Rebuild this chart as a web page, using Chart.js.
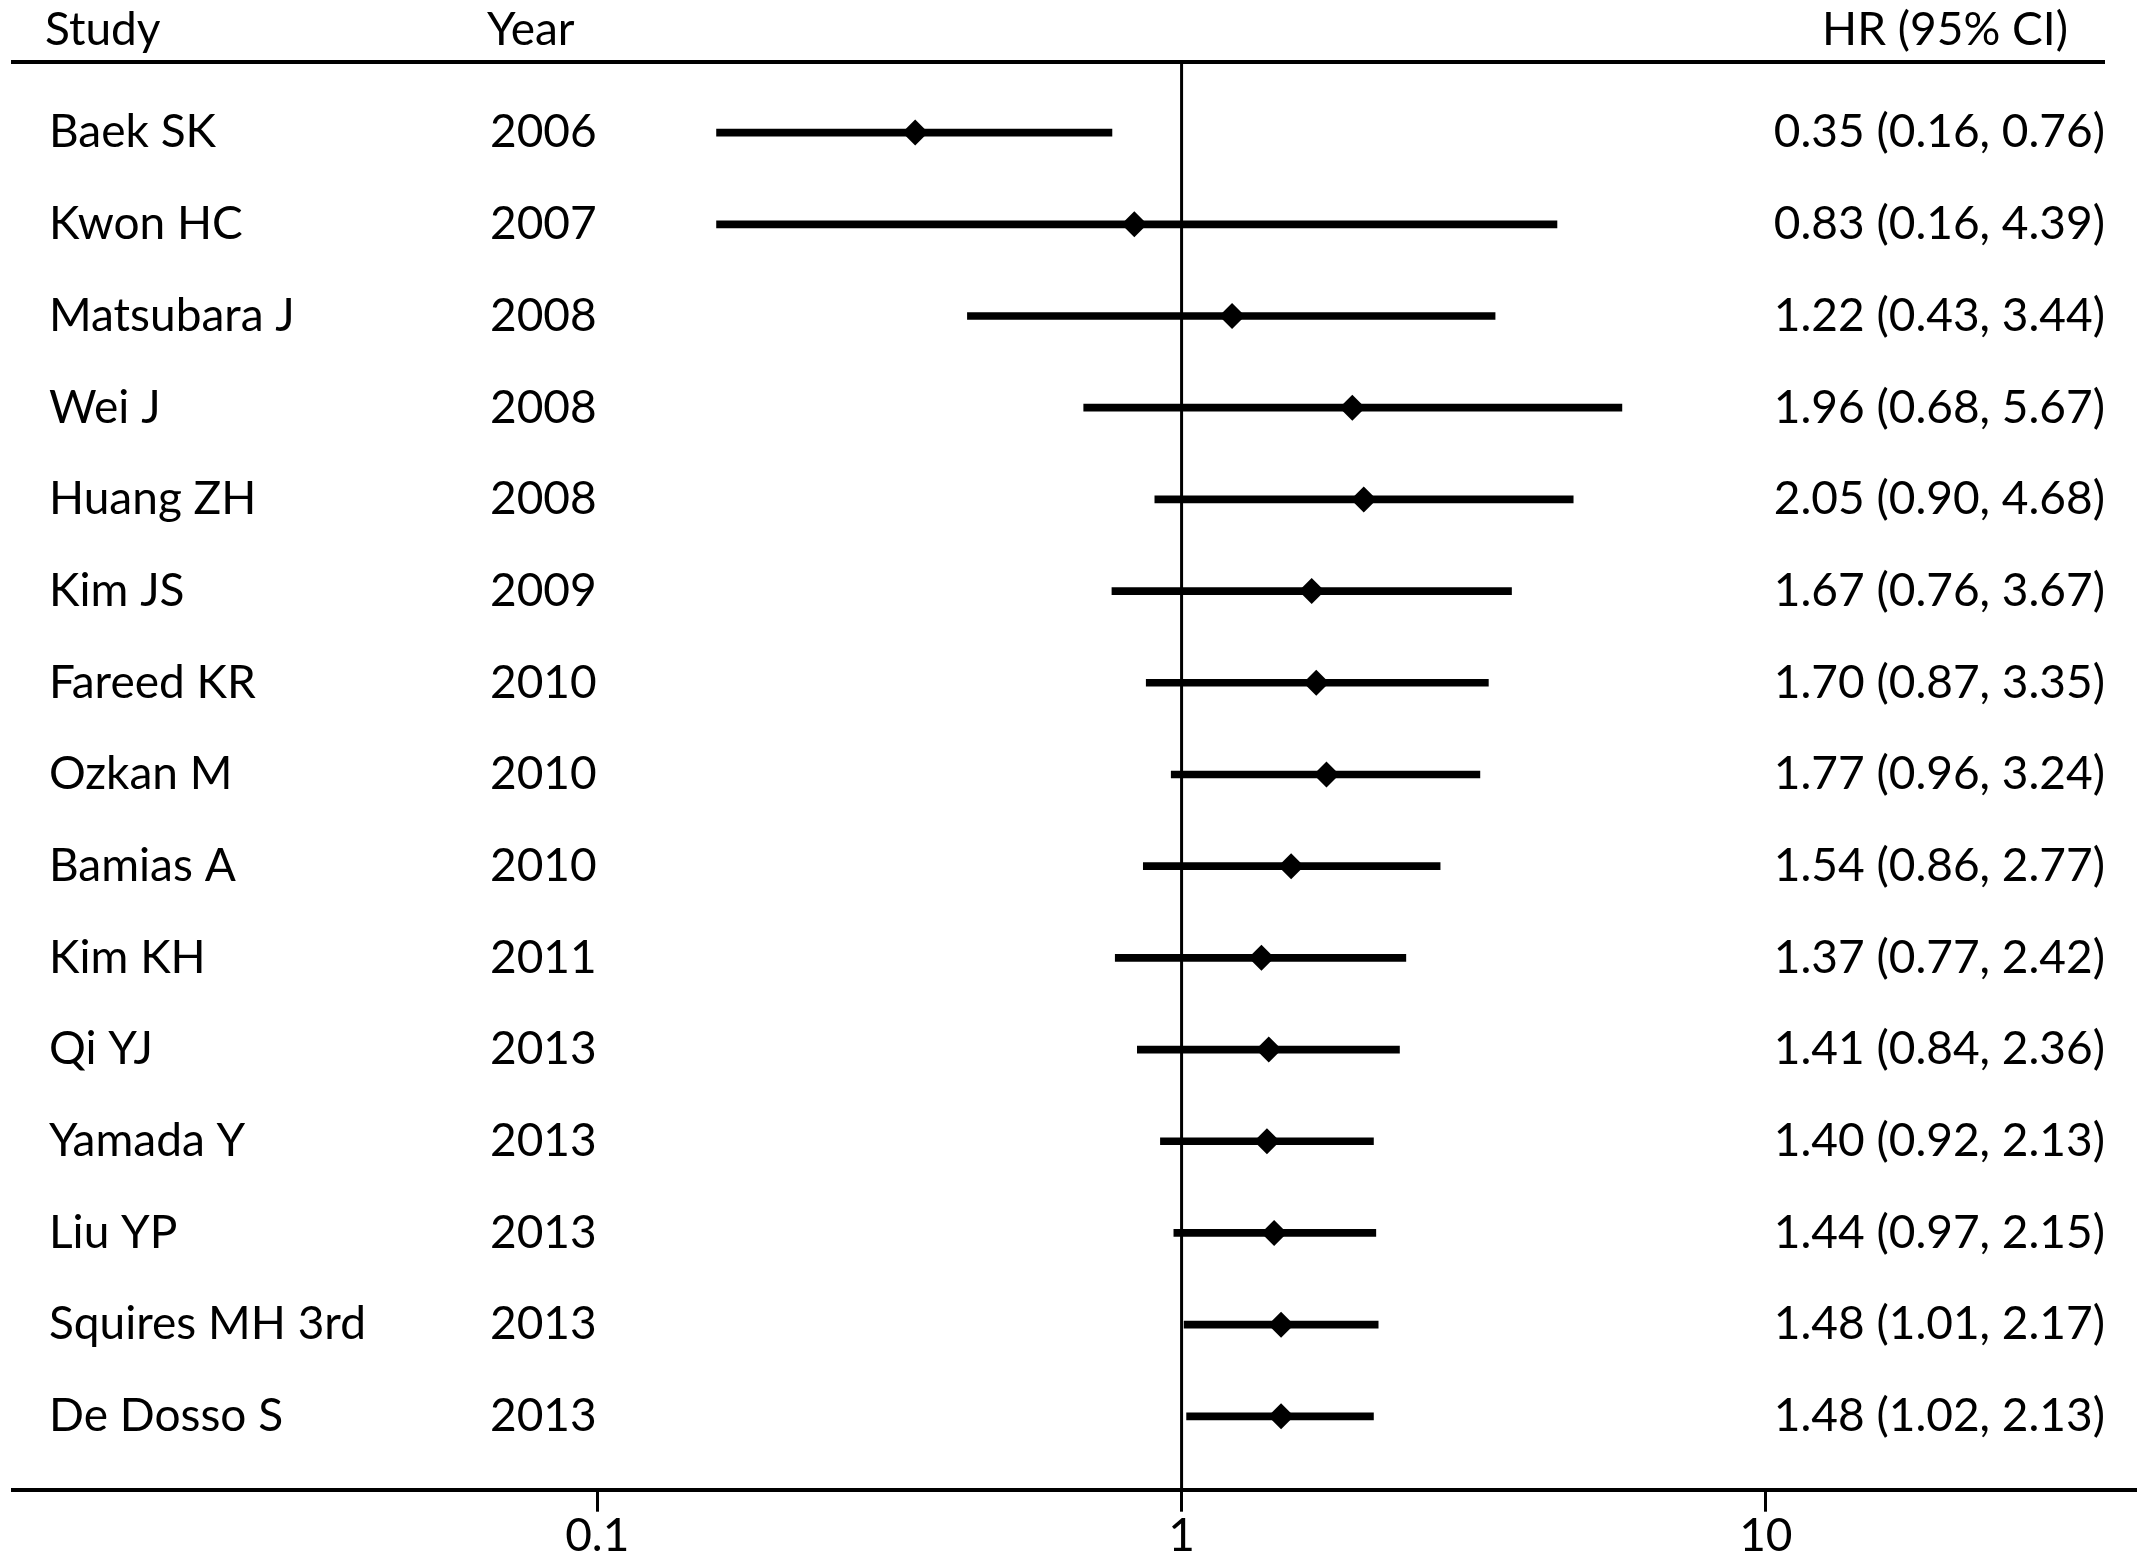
<!DOCTYPE html>
<html>
<head>
<meta charset="utf-8">
<script src="https://cdn.jsdelivr.net/npm/chart.js@4.4.1/dist/chart.umd.min.js"></script>
<style>
  body { margin: 0; background: #fff; }
  #wrap { width: 2150px; height: 1560px; }
</style>
</head>
<body>
<div id="wrap"><canvas id="forest" width="2150" height="1560"></canvas></div>
<script>
// forest plot data
const studies = ["Baek SK", "Kwon HC", "Matsubara J", "Wei J", "Huang ZH", "Kim JS", "Fareed KR",
  "Ozkan M", "Bamias A", "Kim KH", "Qi YJ", "Yamada Y", "Liu YP", "Squires MH 3rd", "De Dosso S"];
const years = [2006, 2007, 2008, 2008, 2008, 2009, 2010, 2010, 2010, 2011, 2013, 2013, 2013, 2013, 2013];
const hr = [0.35, 0.83, 1.22, 1.96, 2.05, 1.67, 1.70, 1.77, 1.54, 1.37, 1.41, 1.40, 1.44, 1.48, 1.48];
const lower = [0.16, 0.16, 0.43, 0.68, 0.90, 0.76, 0.87, 0.96, 0.86, 0.77, 0.84, 0.92, 0.97, 1.01, 1.02];
const upper = [0.76, 4.39, 3.44, 5.67, 4.68, 3.67, 3.35, 3.24, 2.77, 2.42, 2.36, 2.13, 2.15, 2.17, 2.13];
const tickVals = [0.1, 1, 10];
const headers = ["Study", "Year", "HR (95% CI)"];

const FONT = "Lato";
const FSIZE = 46;

// table text, header rule and the line of no effect
const tablePlugin = {
  id: "table",
  afterDraw(chart) {
    const { ctx, chartArea, scales } = chart;
    const x = scales.x, y = scales.y;
    ctx.save();
    ctx.fillStyle = "#000";
    ctx.font = FSIZE + "px " + FONT;
    ctx.textBaseline = "middle";

    // header
    ctx.textAlign = "left";
    ctx.fillText(headers[0], 45, 30);
    ctx.fillText(headers[1], 487, 30);
    ctx.textAlign = "right";
    ctx.fillText(headers[2], 2068, 30);

    // header rule
    ctx.strokeStyle = "#000";
    ctx.lineWidth = 4;
    ctx.beginPath();
    ctx.moveTo(11, chartArea.top);
    ctx.lineTo(2105, chartArea.top);
    ctx.stroke();

    // null line at HR = 1
    const x1 = x.getPixelForValue(1);
    ctx.lineWidth = 3;
    ctx.beginPath();
    ctx.moveTo(x1, chartArea.top);
    ctx.lineTo(x1, chartArea.bottom);
    ctx.stroke();

    studies.forEach((name, i) => {
      const py = y.getPixelForValue(i);
      ctx.textAlign = "left";
      ctx.fillText(name, 49, py);
      ctx.fillText(String(years[i]), 490, py);
      ctx.textAlign = "right";
      ctx.fillText(hr[i].toFixed(2) + " (" + lower[i].toFixed(2) + ", " + upper[i].toFixed(2) + ")", 2105, py);
    });
    ctx.restore();
  }
};

new Chart(document.getElementById("forest").getContext("2d"), {
  type: "bar",
  data: {
    datasets: [
      {
        label: "95% CI",
        data: studies.map((s, i) => ({ y: i, x: [lower[i], upper[i]] })),
        backgroundColor: "#000",
        borderWidth: 0,
        borderSkipped: false,
        barThickness: 7,
        order: 2
      },
      {
        type: "scatter",
        label: "HR",
        indexAxis: "y",
        data: studies.map((s, i) => ({ y: i, x: hr[i] })),
        pointStyle: "rectRot",
        pointRadius: 13,
        backgroundColor: "#000",
        borderColor: "#000",
        borderWidth: 0,
        showLine: false,
        order: 1
      }
    ]
  },
  options: {
    indexAxis: "y",
    responsive: false,
    animation: false,
    layout: { padding: { left: 11, right: 14, top: 62, bottom: 0 } },
    plugins: { legend: { display: false }, tooltip: { enabled: false } },
    scales: {
      y: {
        type: "linear",
        reverse: true,
        offset: false,
        grace: 0,
        min: -0.77,
        max: 14.8,
        display: false
      },
      x: {
        type: "logarithmic",
        position: "bottom",
        min: 0.01,
        max: 43,
        afterBuildTicks: (scale) => { scale.ticks = tickVals.map(v => ({ value: v })); },
        ticks: {
          color: "#000",
          padding: 0,
          autoSkip: false,
          maxRotation: 0,
          font: { family: FONT, size: FSIZE, lineHeight: 1.05 },
          callback: (v) => String(v)
        },
        grid: {
          display: true,
          drawOnChartArea: false,
          drawTicks: true,
          tickLength: 22,
          tickWidth: 3,
          tickColor: "#000",
          color: "#000"
        },
        border: { display: true, color: "#000", width: 4 }
      }
    }
  },
  plugins: [tablePlugin]
});
</script>
</body>
</html>
